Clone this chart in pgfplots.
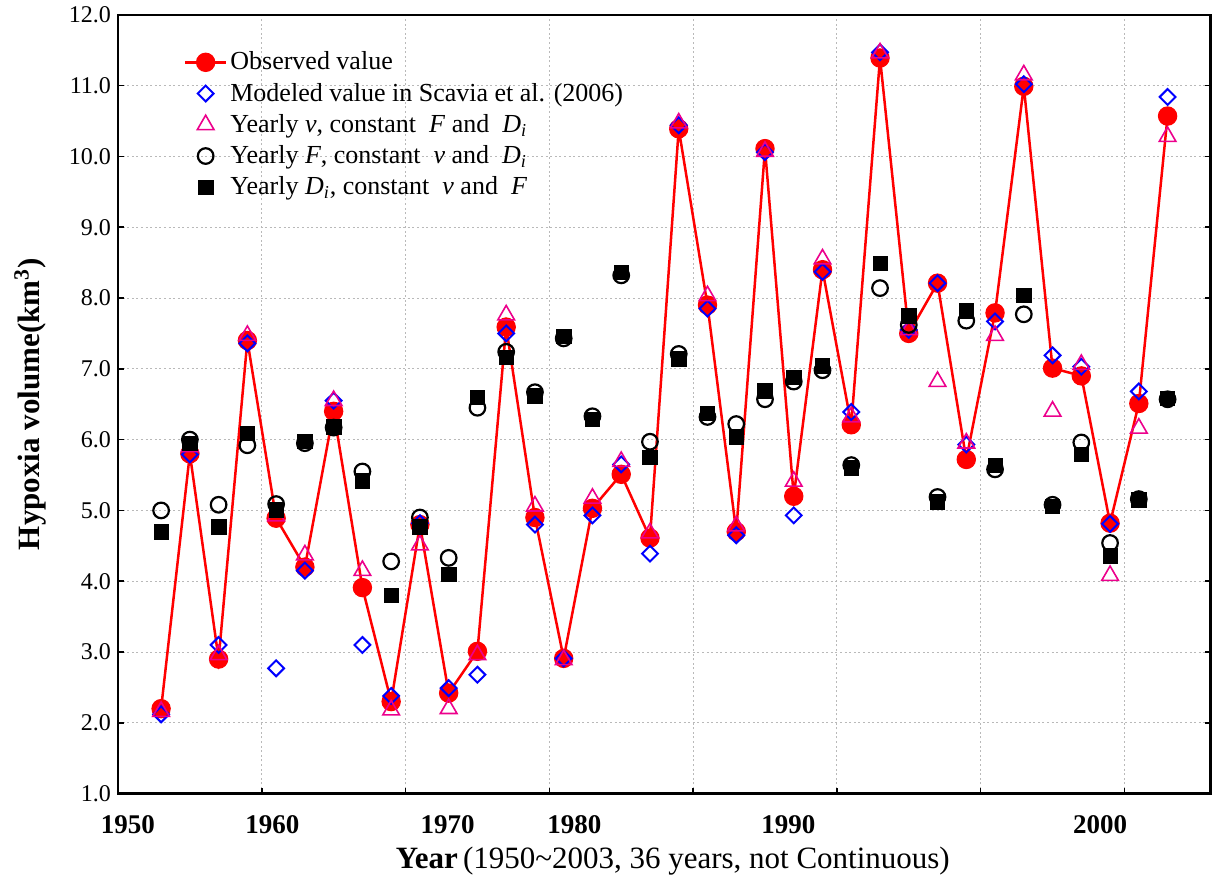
\documentclass[border=0pt]{standalone}
\usepackage{fontspec}
\setmainfont{Liberation Serif}
\usepackage{pgfplots}
\pgfplotsset{compat=1.18}
\usepackage{pgfplotstable}

\pgfplotstableread{
k obs mod yv yF yD
1 2.20 2.12 2.16 5.00 4.70
2 5.80 5.79 5.90 6.00 5.95
3 2.90 3.10 2.96 5.08 4.77
4 7.40 7.36 7.47 5.92 6.09
5 4.89 2.77 4.92 5.09 5.01
6 4.20 4.15 4.37 5.95 5.98
7 6.40 6.55 6.55 6.17 6.18
8 3.91 3.10 4.15 5.55 5.42
9 2.30 2.38 2.18 4.28 3.80
10 4.80 4.82 4.51 4.90 4.77
11 2.42 2.49 2.20 4.33 4.10
12 3.01 2.68 2.96 6.45 6.60
13 7.59 7.50 7.76 7.24 7.16
14 4.90 4.80 5.06 6.67 6.62
15 2.91 2.91 2.89 7.43 7.46
16 5.03 4.93 5.17 6.33 6.29
17 5.51 5.65 5.69 8.32 8.36
18 4.61 4.39 4.68 5.97 5.75
19 10.39 10.44 10.47 7.21 7.14
20 7.90 7.85 8.03 6.32 6.37
21 4.70 4.65 4.78 6.22 6.04
22 10.11 10.06 10.07 6.57 6.69
23 5.20 4.93 5.41 6.82 6.88
24 8.40 8.37 8.55 6.98 7.04
25 6.21 6.39 6.32 5.64 5.60
26 11.39 11.47 11.46 8.14 8.49
27 7.50 7.55 7.55 7.62 7.75
28 8.21 8.21 6.82 5.19 5.12
29 5.72 5.93 5.95 7.68 7.82
30 7.79 7.67 7.47 5.58 5.64
31 10.99 11.02 11.15 7.77 8.04
32 7.01 7.19 6.40 5.08 5.06
33 6.90 7.03 7.06 5.96 5.79
34 4.82 4.81 4.08 4.54 4.36
35 6.51 6.68 6.16 5.16 5.15
36 10.57 10.84 10.28 6.57 6.58
}\datatab

\begin{document}
\begin{tikzpicture}
\begin{axis}[
  scale only axis, width=546.5pt, height=389.5pt,
  xmin=-0.5, xmax=37.5, ymin=1, ymax=12,
  /pgf/number format/assume math mode=true,
  xtick={4.5,9.5,14.5,19.5,24.5,29.5,34.5}, xticklabels={},
  extra x ticks={-0.157,4.87,10.96,15.37,22.81,33.65},
  extra x tick labels={1950,1960,1970,1980,1990,2000},
  extra x tick style={grid=none, major tick length=0pt,
    tick label style={font=\fontsize{13.5}{15}\selectfont\bfseries, yshift=-7.5pt}},
  ytick={1,2,...,12},
  yticklabel style={font=\fontsize{12}{14}\selectfont,
    /pgf/number format/.cd, fixed, fixed zerofill, precision=1, assume math mode=true},
  xtick pos=bottom, ytick pos=both,
  tick align=inside, major tick length=3pt,
  tick style={black, line width=0.8pt},
  axis line style={line width=1.3pt},
  grid=major,
  major grid style={dash pattern=on 1pt off 1.3pt, gray!55, line width=0.5pt},
  every axis x label/.style={at={(axis description cs:0.5078,-0.086)}, anchor=center},
  every axis y label/.style={at={(axis description cs:-0.0805,0.5)}, rotate=90, anchor=center},
  xlabel={\fontsize{15.5}{17}\selectfont\textbf{Year}\,(1950\textasciitilde 2003, 36 years, not Continuous)},
  ylabel={\fontsize{15.5}{17}\selectfont\bfseries Hypoxia volume(km\textsuperscript{3})},
  legend style={at={(axis description cs:0.0545,0.962)}, anchor=north west,
    draw=none, fill=none, font=\fontsize{13}{15}\selectfont, row sep=2.1pt,
    nodes={inner sep=1.5pt}},
  legend cell align=left,
  legend image code/.code={\draw[mark repeat=2,mark phase=2,#1] plot coordinates {(0cm,0cm) (0.36cm,0cm) (0.72cm,0cm)};},
]
\addplot[red, line width=1.25pt, mark=*, mark size=4.6pt, mark options={solid, fill=red, draw=red, line width=0.5pt}]
  table[x=k, y=obs] {\datatab};
\addlegendentry{Observed value}
\addplot[only marks, blue, mark=square, mark size=2.8pt, mark options={rotate=45, line width=1pt}]
  table[x=k, y=mod] {\datatab};
\addlegendentry{Modeled value in Scavia et al. (2006)}
\addplot[only marks, magenta, mark=triangle, mark size=4.8pt, mark options={line width=0.8pt}]
  table[x=k, y=yv] {\datatab};
\addlegendentry{Yearly \textit{v}, constant \ \textit{F} and \ \textit{D}\textsubscript{\textit{i}}}
\addplot[only marks, black, mark=o, mark size=3.9pt, mark options={line width=1.1pt}]
  table[x=k, y=yF] {\datatab};
\addlegendentry{Yearly \textit{F}, constant \ \textit{v} and \ \textit{D}\textsubscript{\textit{i}}}
\addplot[only marks, black, mark=square*, mark size=3.6pt, mark options={fill=black, line width=0.3pt}]
  table[x=k, y=yD] {\datatab};
\addlegendentry{Yearly \textit{D}\textsubscript{\textit{i}}, constant \ \textit{v} and \ \textit{F}}
\end{axis}
\begin{axis}[
  scale only axis, width=546.5pt, height=389.5pt,
  xmin=-0.5, xmax=37.5, ymin=1, ymax=12,
  axis x line*=top, axis y line=none,
  x axis line style={-, line width=1.3pt},
  xtick=\empty, minor xtick={0.5,1.5,...,36.5},
  tick align=inside, minor tick length=2.5pt,
  minor tick style={black, line width=0.8pt},
]
\end{axis}
\path (current axis.south west) ++(-59pt,-45.5pt);
\path (current axis.north east) ++(0.5pt,7pt);
\end{tikzpicture}
\end{document}
